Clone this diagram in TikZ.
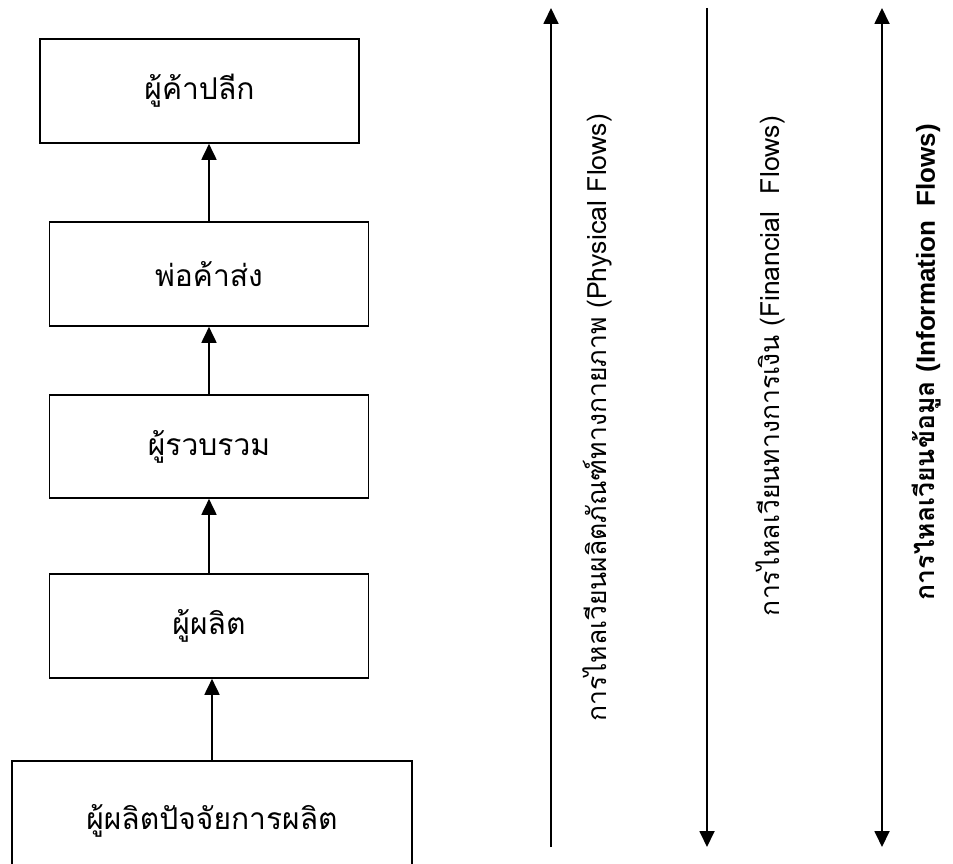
\documentclass[tikz,border=0pt]{standalone}
\usepackage{fontspec}
\usetikzlibrary{arrows.meta}
\newfontfamily\thaifont[Script=Thai]{Loma}
\newfontfamily\latinbold{Liberation Sans}
\begin{document}
\begin{tikzpicture}[x=1pt,y=-1pt,
  chainbox/.style={draw,line width=1.6pt,inner sep=0pt,font=\thaifont\fontsize{30}{34}\selectfont},
  link/.style={line width=1.8pt,-{Triangle[length=16pt,width=15pt]}},
  flowlabel/.style={rotate=90,inner sep=0pt,font=\thaifont\fontsize{26.5}{30}\selectfont}]
\useasboundingbox (0,0) rectangle (953,864);

% supply chain stages, bottom to top
\node[chainbox,minimum width=319pt,minimum height=104pt] (retail) at (199.5,91) {ผู้ค้าปลีก};
\node[chainbox,minimum width=319pt,minimum height=104pt] (wholesale) at (209,274) {พ่อค้าส่ง};
\node[chainbox,minimum width=319pt,minimum height=103pt] (collector) at (209,446.5) {ผู้รวบรวม};
\node[chainbox,minimum width=319pt,minimum height=104pt] (producer) at (209,626) {ผู้ผลิต};
\node[chainbox,minimum width=400pt,minimum height=120pt] (inputs) at (212,821) {\raisebox{6pt}{ผู้ผลิตปัจจัยการผลิต}};

\draw[link] (wholesale.north) -- (wholesale.north |- retail.south);
\draw[link] (collector.north) -- (collector.north |- wholesale.south);
\draw[link] (producer.north) -- (producer.north |- collector.south);
\draw[link] (inputs.north) -- (inputs.north |- producer.south);

% flow directions
\coordinate (physB) at (551,847);
\coordinate (physT) at (551,8);
\coordinate (finT) at (707,8);
\coordinate (finB) at (707,847);
\coordinate (infoT) at (882,8);
\coordinate (infoB) at (882,847);

\draw[link] (physB) -- (physT);
\draw[link] (finT) -- (finB);
\draw[link,{Triangle[length=16pt,width=15pt]}-{Triangle[length=16pt,width=15pt]}] (infoB) -- (infoT);

\node[flowlabel] (physL) at (597,418) {การไหลเวียนผลิตภัณฑ์ทางกายภาพ (Physical Flows)};
\node[flowlabel] (finL) at (770,366) {การไหลเวียนทางการเงิน (Financial\ \ Flows)};
\node[flowlabel] (infoL) at (927,362) {\bfseries การไหลเวียนข้อมูล {\latinbold\fontsize{26}{30}\selectfont\bfseries (Information\ \ Flows)}};
\end{tikzpicture}
\end{document}
